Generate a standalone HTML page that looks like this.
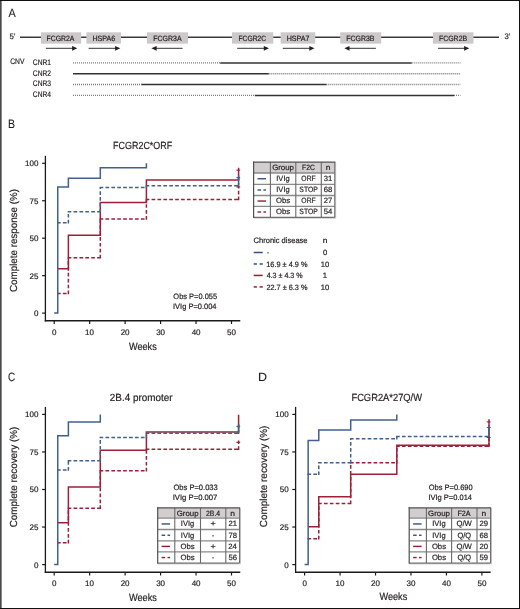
<!DOCTYPE html>
<html><head><meta charset="utf-8"><style>
html,body{margin:0;padding:0;background:#fff;}
body{width:520px;height:609px;overflow:hidden;}
svg{display:block;font-family:"Liberation Sans", sans-serif;will-change:transform;text-rendering:geometricPrecision;}
</style></head><body>
<svg width="520" height="609" viewBox="0 0 520 609">
<rect x="0" y="0" width="520" height="609" fill="#fff"/>
<text x="8.38" y="16.7" font-size="12" textLength="7.24" lengthAdjust="spacingAndGlyphs" fill="#231f20" stroke="#231f20" stroke-width="0.12">A</text>
<text x="9.49" y="39.4" font-size="8" textLength="6.1" lengthAdjust="spacingAndGlyphs" fill="#231f20" stroke="#231f20" stroke-width="0.2">5’</text>
<line x1="20" y1="37.2" x2="499" y2="37.2" stroke="#3a3a3a" stroke-width="1.4"/>
<rect x="41" y="32.3" width="40.2" height="11.35" fill="#cdc9ca" stroke="none" stroke-width="0"/>
<text x="46.54" y="40.5" font-size="7.6" textLength="27.88" lengthAdjust="spacingAndGlyphs" fill="#231f20" stroke="#231f20" stroke-width="0.2">FCGR2A</text>
<line x1="45.9" y1="48.3" x2="73.5" y2="48.3" stroke="#333" stroke-width="1"/>
<path d="M77.3,48.3 l-5.2,-2.4 v4.8 z" fill="#231f20"/>
<rect x="86.4" y="32.3" width="34.6" height="11.35" fill="#cdc9ca" stroke="none" stroke-width="0"/>
<text x="92.43" y="40.5" font-size="7.6" textLength="22.77" lengthAdjust="spacingAndGlyphs" fill="#231f20" stroke="#231f20" stroke-width="0.2">HSPA6</text>
<line x1="88.6" y1="48.3" x2="116.5" y2="48.3" stroke="#333" stroke-width="1"/>
<path d="M120.3,48.3 l-5.2,-2.4 v4.8 z" fill="#231f20"/>
<rect x="147" y="32.3" width="41" height="11.35" fill="#cdc9ca" stroke="none" stroke-width="0"/>
<text x="153.33" y="40.5" font-size="7.6" textLength="28.29" lengthAdjust="spacingAndGlyphs" fill="#231f20" stroke="#231f20" stroke-width="0.2">FCGR3A</text>
<line x1="155.2" y1="48.3" x2="182.6" y2="48.3" stroke="#333" stroke-width="1"/>
<path d="M151.4,48.3 l5.2,-2.4 v4.8 z" fill="#231f20"/>
<rect x="232" y="32.3" width="41.3" height="11.35" fill="#cdc9ca" stroke="none" stroke-width="0"/>
<text x="238.45" y="40.5" font-size="7.6" textLength="27.71" lengthAdjust="spacingAndGlyphs" fill="#231f20" stroke="#231f20" stroke-width="0.2">FCGR2C</text>
<line x1="237.2" y1="48.3" x2="265.2" y2="48.3" stroke="#333" stroke-width="1"/>
<path d="M269,48.3 l-5.2,-2.4 v4.8 z" fill="#231f20"/>
<rect x="280.6" y="32.3" width="34.6" height="11.35" fill="#cdc9ca" stroke="none" stroke-width="0"/>
<text x="286.63" y="40.5" font-size="7.6" textLength="22.82" lengthAdjust="spacingAndGlyphs" fill="#231f20" stroke="#231f20" stroke-width="0.2">HSPA7</text>
<line x1="282.8" y1="48.3" x2="310.7" y2="48.3" stroke="#333" stroke-width="1"/>
<path d="M314.5,48.3 l-5.2,-2.4 v4.8 z" fill="#231f20"/>
<rect x="340.2" y="32.3" width="41" height="11.35" fill="#cdc9ca" stroke="none" stroke-width="0"/>
<text x="346.23" y="40.5" font-size="7.6" textLength="28.24" lengthAdjust="spacingAndGlyphs" fill="#231f20" stroke="#231f20" stroke-width="0.2">FCGR3B</text>
<line x1="348.1" y1="48.3" x2="375.9" y2="48.3" stroke="#333" stroke-width="1"/>
<path d="M344.3,48.3 l5.2,-2.4 v4.8 z" fill="#231f20"/>
<rect x="433" y="32.3" width="40.5" height="11.35" fill="#cdc9ca" stroke="none" stroke-width="0"/>
<text x="438.93" y="40.5" font-size="7.6" textLength="28.24" lengthAdjust="spacingAndGlyphs" fill="#231f20" stroke="#231f20" stroke-width="0.2">FCGR2B</text>
<line x1="438" y1="48.3" x2="465.5" y2="48.3" stroke="#333" stroke-width="1"/>
<path d="M469.3,48.3 l-5.2,-2.4 v4.8 z" fill="#231f20"/>
<text x="504.61" y="39.4" font-size="8" textLength="5.97" lengthAdjust="spacingAndGlyphs" fill="#231f20" stroke="#231f20" stroke-width="0.2">3’</text>
<text x="10.26" y="64.2" font-size="8" textLength="14.17" lengthAdjust="spacingAndGlyphs" fill="#231f20" stroke="#231f20" stroke-width="0.2">CNV</text>
<text x="32.86" y="64.8" font-size="8" textLength="18.16" lengthAdjust="spacingAndGlyphs" fill="#231f20" stroke="#231f20" stroke-width="0.2">CNR1</text>
<text x="32.86" y="75.7" font-size="8" textLength="18.17" lengthAdjust="spacingAndGlyphs" fill="#231f20" stroke="#231f20" stroke-width="0.2">CNR2</text>
<text x="32.86" y="86.4" font-size="8" textLength="18.13" lengthAdjust="spacingAndGlyphs" fill="#231f20" stroke="#231f20" stroke-width="0.2">CNR3</text>
<text x="32.86" y="97" font-size="8" textLength="18.03" lengthAdjust="spacingAndGlyphs" fill="#231f20" stroke="#231f20" stroke-width="0.2">CNR4</text>
<line x1="73" y1="62.9" x2="220.2" y2="62.9" stroke="#7a7a7a" stroke-width="1.4" stroke-dasharray="1 1"/>
<line x1="411.7" y1="62.9" x2="460.5" y2="62.9" stroke="#7a7a7a" stroke-width="1.4" stroke-dasharray="1 1"/>
<line x1="220.2" y1="62.9" x2="411.7" y2="62.9" stroke="#333" stroke-width="1.5"/>
<line x1="268.7" y1="73.8" x2="460.5" y2="73.8" stroke="#7a7a7a" stroke-width="1.4" stroke-dasharray="1 1"/>
<line x1="73" y1="73.8" x2="268.7" y2="73.8" stroke="#333" stroke-width="1.5"/>
<line x1="73" y1="84.5" x2="141.3" y2="84.5" stroke="#7a7a7a" stroke-width="1.4" stroke-dasharray="1 1"/>
<line x1="326.3" y1="84.5" x2="460.5" y2="84.5" stroke="#7a7a7a" stroke-width="1.4" stroke-dasharray="1 1"/>
<line x1="141.3" y1="84.5" x2="326.3" y2="84.5" stroke="#333" stroke-width="1.5"/>
<line x1="73" y1="95.4" x2="254.8" y2="95.4" stroke="#7a7a7a" stroke-width="1.4" stroke-dasharray="1 1"/>
<line x1="454" y1="95.4" x2="460.5" y2="95.4" stroke="#7a7a7a" stroke-width="1.4" stroke-dasharray="1 1"/>
<line x1="254.8" y1="95.4" x2="454" y2="95.4" stroke="#333" stroke-width="1.5"/>
<text x="8.04" y="127.8" font-size="12.4" textLength="7.02" lengthAdjust="spacingAndGlyphs" fill="#231f20" stroke="#231f20" stroke-width="0.12">B</text>
<text x="113.07" y="148.6" font-size="10.4" textLength="59.19" lengthAdjust="spacingAndGlyphs" fill="#231f20" stroke="#231f20" stroke-width="0.2">FCGR2C*ORF</text>
<line x1="45.4" y1="155.8" x2="45.4" y2="321.4" stroke="#1a1a1a" stroke-width="1.3"/>
<line x1="44.75" y1="320.7" x2="240.26" y2="320.7" stroke="#1a1a1a" stroke-width="1.4"/>
<line x1="42.1" y1="313.1" x2="45.4" y2="313.1" stroke="#1a1a1a" stroke-width="1.2"/>
<text x="33.96" y="316" font-size="8" fill="#231f20" stroke="#231f20" stroke-width="0.2">0</text>
<line x1="42.1" y1="275.65" x2="45.4" y2="275.65" stroke="#1a1a1a" stroke-width="1.2"/>
<text x="29.54" y="278.55" font-size="8" fill="#231f20" stroke="#231f20" stroke-width="0.2">25</text>
<line x1="42.1" y1="238.2" x2="45.4" y2="238.2" stroke="#1a1a1a" stroke-width="1.2"/>
<text x="29.51" y="241.1" font-size="8" fill="#231f20" stroke="#231f20" stroke-width="0.2">50</text>
<line x1="42.1" y1="200.75" x2="45.4" y2="200.75" stroke="#1a1a1a" stroke-width="1.2"/>
<text x="29.54" y="203.65" font-size="8" fill="#231f20" stroke="#231f20" stroke-width="0.2">75</text>
<line x1="42.1" y1="163.3" x2="45.4" y2="163.3" stroke="#1a1a1a" stroke-width="1.2"/>
<text x="25.06" y="166.2" font-size="8" fill="#231f20" stroke="#231f20" stroke-width="0.2">100</text>
<line x1="54.2" y1="320.7" x2="54.2" y2="324" stroke="#1a1a1a" stroke-width="1.2"/>
<text x="51.98" y="334.75" font-size="8" fill="#231f20" stroke="#231f20" stroke-width="0.2">0</text>
<line x1="89.66" y1="320.7" x2="89.66" y2="324" stroke="#1a1a1a" stroke-width="1.2"/>
<text x="85.06" y="334.75" font-size="8" fill="#231f20" stroke="#231f20" stroke-width="0.2">10</text>
<line x1="125.12" y1="320.7" x2="125.12" y2="324" stroke="#1a1a1a" stroke-width="1.2"/>
<text x="120.63" y="334.75" font-size="8" fill="#231f20" stroke="#231f20" stroke-width="0.2">20</text>
<line x1="160.58" y1="320.7" x2="160.58" y2="324" stroke="#1a1a1a" stroke-width="1.2"/>
<text x="156.13" y="334.75" font-size="8" fill="#231f20" stroke="#231f20" stroke-width="0.2">30</text>
<line x1="196.04" y1="320.7" x2="196.04" y2="324" stroke="#1a1a1a" stroke-width="1.2"/>
<text x="191.66" y="334.75" font-size="8" fill="#231f20" stroke="#231f20" stroke-width="0.2">40</text>
<line x1="231.5" y1="320.7" x2="231.5" y2="324" stroke="#1a1a1a" stroke-width="1.2"/>
<text x="227.05" y="334.75" font-size="8" fill="#231f20" stroke="#231f20" stroke-width="0.2">50</text>
<text x="128.96" y="349.8" font-size="10.4" textLength="27.77" lengthAdjust="spacingAndGlyphs" fill="#231f20" stroke="#231f20" stroke-width="0.2">Weeks</text>
<text transform="translate(17,292) rotate(-90)" font-size="10.2" textLength="102.9" lengthAdjust="spacingAndGlyphs" fill="#231f20" stroke="#231f20" stroke-width="0.2">Complete response (%)</text>
<polyline points="57.75,268.76 68.38,268.76 68.38,235.35 100.3,235.35 100.3,202.4 146.4,202.4 146.4,179.93 238.59,179.93 238.59,167.79" fill="none" stroke="#a01f37" stroke-width="1.5" stroke-linejoin="miter"/>
<path d="M57,293.48H68.38M68.38,294.23V257.67M67.63,257.67H100.3M100.3,258.42V218.88M99.55,218.88H146.4M146.4,219.63V199.55M145.65,199.55H238.59M238.59,200.3V186.07" fill="none" stroke="#a01f37" stroke-width="1.5" stroke-dasharray="3.7 2.2"/>
<path d="M57,222.77H68.38M68.38,223.52V211.84M67.63,211.84H100.3M100.3,212.59V187.42M99.55,187.42H146.4M146.4,188.17V185.77M145.65,185.77H238.59M238.59,186.52V175.28" fill="none" stroke="#41608e" stroke-width="1.5" stroke-dasharray="3.7 2.2"/>
<polyline points="54.2,313.1 57.75,313.1 57.75,186.97 68.38,186.97 68.38,178.13 100.3,178.13 100.3,167.79 146.4,167.79 146.4,163.3" fill="none" stroke="#41608e" stroke-width="1.5" stroke-linejoin="miter"/>
<line x1="238.59" y1="185.02" x2="238.59" y2="175.28" stroke="#41608e" stroke-width="1.5"/>
<line x1="236.39" y1="170.19" x2="240.19" y2="170.19" stroke="#a01f37" stroke-width="1.1"/>
<line x1="236.39" y1="177.53" x2="240.19" y2="177.53" stroke="#41608e" stroke-width="1.1"/>
<line x1="236.39" y1="186.97" x2="240.19" y2="186.97" stroke="#a01f37" stroke-width="1.1"/>
<text x="173.35" y="299.3" font-size="7.8" textLength="43.77" lengthAdjust="spacingAndGlyphs" fill="#231f20" stroke="#231f20" stroke-width="0.2">Obs P=0.055</text>
<text x="173.01" y="309.4" font-size="7.8" textLength="43.51" lengthAdjust="spacingAndGlyphs" fill="#231f20" stroke="#231f20" stroke-width="0.2">IVIg P=0.004</text>
<rect x="253.6" y="162.2" width="81.2" height="10.8" fill="#d2cecf" stroke="none" stroke-width="0"/>
<line x1="253.6" y1="173" x2="334.8" y2="173" stroke="#8a8a8a" stroke-width="1.3"/>
<line x1="253.6" y1="184.3" x2="334.8" y2="184.3" stroke="#8a8a8a" stroke-width="1.3"/>
<line x1="253.6" y1="195.5" x2="334.8" y2="195.5" stroke="#8a8a8a" stroke-width="1.3"/>
<line x1="253.6" y1="206.4" x2="334.8" y2="206.4" stroke="#8a8a8a" stroke-width="1.3"/>
<line x1="270.4" y1="162.2" x2="270.4" y2="217.4" stroke="#6a6a6a" stroke-width="1.1"/>
<line x1="295.8" y1="162.2" x2="295.8" y2="217.4" stroke="#6a6a6a" stroke-width="1.1"/>
<line x1="321.3" y1="162.2" x2="321.3" y2="217.4" stroke="#6a6a6a" stroke-width="1.1"/>
<line x1="335.7" y1="162.7" x2="335.7" y2="218.3" stroke="#c8c8c8" stroke-width="0.8"/>
<line x1="254.1" y1="218.3" x2="335.7" y2="218.3" stroke="#c8c8c8" stroke-width="0.8"/>
<line x1="334.8" y1="162.2" x2="334.8" y2="217.4" stroke="#6e6e6e" stroke-width="1.2"/>
<line x1="253.6" y1="217.4" x2="334.8" y2="217.4" stroke="#6e6e6e" stroke-width="1.2"/>
<line x1="253" y1="162.2" x2="335.4" y2="162.2" stroke="#505050" stroke-width="1.2"/>
<line x1="253.6" y1="161.6" x2="253.6" y2="218" stroke="#505050" stroke-width="1.2"/>
<text x="272.15" y="170.4" font-size="7.7" textLength="21.83" lengthAdjust="spacingAndGlyphs" fill="#231f20" stroke="#231f20" stroke-width="0.2">Group</text>
<text x="302" y="170.4" font-size="7.7" textLength="12.8" lengthAdjust="spacingAndGlyphs" fill="#231f20" stroke="#231f20" stroke-width="0.2">F2C</text>
<text x="325.69" y="170.4" font-size="7.7" textLength="4.71" lengthAdjust="spacingAndGlyphs" fill="#231f20" stroke="#231f20" stroke-width="0.2">n</text>
<line x1="257.5" y1="178.75" x2="266" y2="178.75" stroke="#31507f" stroke-width="1.4"/>
<text x="276.28" y="181.05" font-size="7.7" textLength="13.42" lengthAdjust="spacingAndGlyphs" fill="#231f20" stroke="#231f20" stroke-width="0.2">IVIg</text>
<text x="301.37" y="181.05" font-size="7.7" textLength="14.3" lengthAdjust="spacingAndGlyphs" fill="#231f20" stroke="#231f20" stroke-width="0.2">ORF</text>
<text x="323.81" y="181.05" font-size="7.7" fill="#231f20" stroke="#231f20" stroke-width="0.2">31</text>
<line x1="257.5" y1="190" x2="261.1" y2="190" stroke="#31507f" stroke-width="1.4"/>
<line x1="263.4" y1="190" x2="266" y2="190" stroke="#31507f" stroke-width="1.4"/>
<text x="276.28" y="192.25" font-size="7.7" textLength="13.42" lengthAdjust="spacingAndGlyphs" fill="#231f20" stroke="#231f20" stroke-width="0.2">IVIg</text>
<text x="299.35" y="192.25" font-size="7.7" textLength="18.45" lengthAdjust="spacingAndGlyphs" fill="#231f20" stroke="#231f20" stroke-width="0.2">STOP</text>
<text x="323.74" y="192.25" font-size="7.7" fill="#231f20" stroke="#231f20" stroke-width="0.2">68</text>
<line x1="257.5" y1="201.05" x2="266" y2="201.05" stroke="#981c31" stroke-width="1.4"/>
<text x="276" y="203.15" font-size="7.7" fill="#231f20" stroke="#231f20" stroke-width="0.2">Obs</text>
<text x="301.37" y="203.15" font-size="7.7" textLength="14.3" lengthAdjust="spacingAndGlyphs" fill="#231f20" stroke="#231f20" stroke-width="0.2">ORF</text>
<text x="323.77" y="203.15" font-size="7.7" fill="#231f20" stroke="#231f20" stroke-width="0.2">27</text>
<line x1="257.5" y1="212" x2="261.1" y2="212" stroke="#981c31" stroke-width="1.4"/>
<line x1="263.4" y1="212" x2="266" y2="212" stroke="#981c31" stroke-width="1.4"/>
<text x="276" y="214.15" font-size="7.7" fill="#231f20" stroke="#231f20" stroke-width="0.2">Obs</text>
<text x="299.35" y="214.15" font-size="7.7" textLength="18.45" lengthAdjust="spacingAndGlyphs" fill="#231f20" stroke="#231f20" stroke-width="0.2">STOP</text>
<text x="323.73" y="214.15" font-size="7.7" fill="#231f20" stroke="#231f20" stroke-width="0.2">54</text>
<text x="253.62" y="242.5" font-size="7.9" textLength="53.92" lengthAdjust="spacingAndGlyphs" fill="#231f20" stroke="#231f20" stroke-width="0.2">Chronic disease</text>
<text x="322.74" y="242.5" font-size="7.7" textLength="4.71" lengthAdjust="spacingAndGlyphs" fill="#231f20" stroke="#231f20" stroke-width="0.2">n</text>
<line x1="253.7" y1="252.5" x2="262.7" y2="252.5" stroke="#31507f" stroke-width="1.5"/>
<text x="266.72" y="255.3" font-size="7.7" fill="#231f20" stroke="#231f20" stroke-width="0.2">-</text>
<text x="322.96" y="255.3" font-size="7.7" fill="#231f20" stroke="#231f20" stroke-width="0.2">0</text>
<line x1="253.7" y1="263.97" x2="256.9" y2="263.97" stroke="#31507f" stroke-width="1.5"/>
<line x1="259.6" y1="263.97" x2="262.8" y2="263.97" stroke="#31507f" stroke-width="1.5"/>
<text x="266.24" y="266.77" font-size="7.7" textLength="41.22" lengthAdjust="spacingAndGlyphs" fill="#231f20" stroke="#231f20" stroke-width="0.2">16.9 ± 4.9 %</text>
<text x="320.67" y="266.77" font-size="7.7" fill="#231f20" stroke="#231f20" stroke-width="0.2">10</text>
<line x1="253.7" y1="275.44" x2="262.7" y2="275.44" stroke="#981c31" stroke-width="1.5"/>
<text x="266.64" y="278.24" font-size="7.7" textLength="36.02" lengthAdjust="spacingAndGlyphs" fill="#231f20" stroke="#231f20" stroke-width="0.2">4.3 ± 4.3 %</text>
<text x="322.85" y="278.24" font-size="7.7" fill="#231f20" stroke="#231f20" stroke-width="0.2">1</text>
<line x1="253.7" y1="286.91" x2="256.9" y2="286.91" stroke="#981c31" stroke-width="1.5"/>
<line x1="259.6" y1="286.91" x2="262.8" y2="286.91" stroke="#981c31" stroke-width="1.5"/>
<text x="266.43" y="289.71" font-size="7.7" textLength="41.03" lengthAdjust="spacingAndGlyphs" fill="#231f20" stroke="#231f20" stroke-width="0.2">22.7 ± 6.3 %</text>
<text x="320.67" y="289.71" font-size="7.7" fill="#231f20" stroke="#231f20" stroke-width="0.2">10</text>
<text x="7.89" y="380.7" font-size="12.2" textLength="7.18" lengthAdjust="spacingAndGlyphs" fill="#231f20" stroke="#231f20" stroke-width="0.12">C</text>
<text x="109.8" y="401.4" font-size="10.4" textLength="62.66" lengthAdjust="spacingAndGlyphs" fill="#231f20" stroke="#231f20" stroke-width="0.2">2B.4 promoter</text>
<line x1="45.4" y1="406.9" x2="45.4" y2="572.9" stroke="#1a1a1a" stroke-width="1.3"/>
<line x1="44.75" y1="572.2" x2="240.26" y2="572.2" stroke="#1a1a1a" stroke-width="1.4"/>
<line x1="42.1" y1="564.6" x2="45.4" y2="564.6" stroke="#1a1a1a" stroke-width="1.2"/>
<text x="33.96" y="567.5" font-size="8" fill="#231f20" stroke="#231f20" stroke-width="0.2">0</text>
<line x1="42.1" y1="527.05" x2="45.4" y2="527.05" stroke="#1a1a1a" stroke-width="1.2"/>
<text x="29.54" y="529.95" font-size="8" fill="#231f20" stroke="#231f20" stroke-width="0.2">25</text>
<line x1="42.1" y1="489.5" x2="45.4" y2="489.5" stroke="#1a1a1a" stroke-width="1.2"/>
<text x="29.51" y="492.4" font-size="8" fill="#231f20" stroke="#231f20" stroke-width="0.2">50</text>
<line x1="42.1" y1="451.95" x2="45.4" y2="451.95" stroke="#1a1a1a" stroke-width="1.2"/>
<text x="29.54" y="454.85" font-size="8" fill="#231f20" stroke="#231f20" stroke-width="0.2">75</text>
<line x1="42.1" y1="414.4" x2="45.4" y2="414.4" stroke="#1a1a1a" stroke-width="1.2"/>
<text x="25.06" y="417.3" font-size="8" fill="#231f20" stroke="#231f20" stroke-width="0.2">100</text>
<line x1="54.2" y1="572.2" x2="54.2" y2="575.5" stroke="#1a1a1a" stroke-width="1.2"/>
<text x="51.98" y="586.25" font-size="8" fill="#231f20" stroke="#231f20" stroke-width="0.2">0</text>
<line x1="89.66" y1="572.2" x2="89.66" y2="575.5" stroke="#1a1a1a" stroke-width="1.2"/>
<text x="85.06" y="586.25" font-size="8" fill="#231f20" stroke="#231f20" stroke-width="0.2">10</text>
<line x1="125.12" y1="572.2" x2="125.12" y2="575.5" stroke="#1a1a1a" stroke-width="1.2"/>
<text x="120.63" y="586.25" font-size="8" fill="#231f20" stroke="#231f20" stroke-width="0.2">20</text>
<line x1="160.58" y1="572.2" x2="160.58" y2="575.5" stroke="#1a1a1a" stroke-width="1.2"/>
<text x="156.13" y="586.25" font-size="8" fill="#231f20" stroke="#231f20" stroke-width="0.2">30</text>
<line x1="196.04" y1="572.2" x2="196.04" y2="575.5" stroke="#1a1a1a" stroke-width="1.2"/>
<text x="191.66" y="586.25" font-size="8" fill="#231f20" stroke="#231f20" stroke-width="0.2">40</text>
<line x1="231.5" y1="572.2" x2="231.5" y2="575.5" stroke="#1a1a1a" stroke-width="1.2"/>
<text x="227.05" y="586.25" font-size="8" fill="#231f20" stroke="#231f20" stroke-width="0.2">50</text>
<text x="128.96" y="600.9" font-size="10.4" textLength="27.97" lengthAdjust="spacingAndGlyphs" fill="#231f20" stroke="#231f20" stroke-width="0.2">Weeks</text>
<text transform="translate(17,527.3) rotate(-90)" font-size="10.2" textLength="100.61" lengthAdjust="spacingAndGlyphs" fill="#231f20" stroke="#231f20" stroke-width="0.2">Complete recovery (%)</text>
<polyline points="57.75,522.69 68.38,522.69 68.38,486.95 100.3,486.95 100.3,450.3 146.4,450.3 146.4,432.12 238.59,432.12 238.59,414.7" fill="none" stroke="#a01f37" stroke-width="1.5" stroke-linejoin="miter"/>
<path d="M57,542.82H68.38M68.38,543.57V508.28M67.63,508.28H100.3M100.3,509.03V470.73M99.55,470.73H146.4M146.4,471.48V449.25M145.65,449.25H238.59M238.59,450V439.48" fill="none" stroke="#a01f37" stroke-width="1.5" stroke-dasharray="3.7 2.2"/>
<path d="M57,469.97H68.38M68.38,470.72V460.66M67.63,460.66H100.3M100.3,461.41V437.38M99.55,437.38H146.4M146.4,438.13V433.33M145.65,433.33H238.59M238.59,434.08V424.31" fill="none" stroke="#41608e" stroke-width="1.5" stroke-dasharray="3.7 2.2"/>
<polyline points="54.2,564.6 57.75,564.6 57.75,435.73 68.38,435.73 68.38,421.91 100.3,421.91 100.3,414.4" fill="none" stroke="#41608e" stroke-width="1.5" stroke-linejoin="miter"/>
<line x1="238.59" y1="432.42" x2="238.59" y2="424.31" stroke="#41608e" stroke-width="1.5"/>
<line x1="236.39" y1="426.42" x2="240.19" y2="426.42" stroke="#41608e" stroke-width="1.1"/>
<line x1="236.39" y1="442.34" x2="240.19" y2="442.34" stroke="#a01f37" stroke-width="1.1"/>
<text x="173.44" y="489.8" font-size="7.8" textLength="44.29" lengthAdjust="spacingAndGlyphs" fill="#231f20" stroke="#231f20" stroke-width="0.2">Obs P=0.033</text>
<text x="172.69" y="499.6" font-size="7.8" textLength="44.7" lengthAdjust="spacingAndGlyphs" fill="#231f20" stroke="#231f20" stroke-width="0.2">IVIg P=0.007</text>
<rect x="157.7" y="507.9" width="81.9" height="10.3" fill="#d2cecf" stroke="none" stroke-width="0"/>
<line x1="157.7" y1="518.2" x2="239.6" y2="518.2" stroke="#8a8a8a" stroke-width="1.3"/>
<line x1="157.7" y1="529.5" x2="239.6" y2="529.5" stroke="#8a8a8a" stroke-width="1.3"/>
<line x1="157.7" y1="540.8" x2="239.6" y2="540.8" stroke="#8a8a8a" stroke-width="1.3"/>
<line x1="157.7" y1="551.8" x2="239.6" y2="551.8" stroke="#8a8a8a" stroke-width="1.3"/>
<line x1="174.8" y1="507.9" x2="174.8" y2="563.1" stroke="#6a6a6a" stroke-width="1.1"/>
<line x1="200.5" y1="507.9" x2="200.5" y2="563.1" stroke="#6a6a6a" stroke-width="1.1"/>
<line x1="225.8" y1="507.9" x2="225.8" y2="563.1" stroke="#6a6a6a" stroke-width="1.1"/>
<line x1="240.5" y1="508.4" x2="240.5" y2="564" stroke="#c8c8c8" stroke-width="0.8"/>
<line x1="158.2" y1="564" x2="240.5" y2="564" stroke="#c8c8c8" stroke-width="0.8"/>
<line x1="239.6" y1="507.9" x2="239.6" y2="563.1" stroke="#6e6e6e" stroke-width="1.2"/>
<line x1="157.7" y1="563.1" x2="239.6" y2="563.1" stroke="#6e6e6e" stroke-width="1.2"/>
<line x1="157.1" y1="507.9" x2="240.2" y2="507.9" stroke="#505050" stroke-width="1.2"/>
<line x1="157.7" y1="507.3" x2="157.7" y2="563.7" stroke="#505050" stroke-width="1.2"/>
<text x="176.7" y="515.6" font-size="7.7" textLength="21.83" lengthAdjust="spacingAndGlyphs" fill="#231f20" stroke="#231f20" stroke-width="0.2">Group</text>
<text x="206.03" y="515.6" font-size="7.7" textLength="14.1" lengthAdjust="spacingAndGlyphs" fill="#231f20" stroke="#231f20" stroke-width="0.2">2B.4</text>
<text x="230.34" y="515.6" font-size="7.7" textLength="4.71" lengthAdjust="spacingAndGlyphs" fill="#231f20" stroke="#231f20" stroke-width="0.2">n</text>
<line x1="161.6" y1="523.95" x2="170.1" y2="523.95" stroke="#31507f" stroke-width="1.4"/>
<text x="180.83" y="526.25" font-size="7.7" textLength="13.42" lengthAdjust="spacingAndGlyphs" fill="#231f20" stroke="#231f20" stroke-width="0.2">IVIg</text>
<text x="210.57" y="526.25" font-size="7.7" textLength="5.17" lengthAdjust="spacingAndGlyphs" fill="#231f20" stroke="#231f20" stroke-width="0.2">+</text>
<text x="228.41" y="526.25" font-size="7.7" fill="#231f20" stroke="#231f20" stroke-width="0.2">21</text>
<line x1="161.6" y1="535.25" x2="165.2" y2="535.25" stroke="#31507f" stroke-width="1.4"/>
<line x1="167.5" y1="535.25" x2="170.1" y2="535.25" stroke="#31507f" stroke-width="1.4"/>
<text x="180.83" y="537.55" font-size="7.7" textLength="13.42" lengthAdjust="spacingAndGlyphs" fill="#231f20" stroke="#231f20" stroke-width="0.2">IVIg</text>
<text x="211.87" y="537.55" font-size="7.7" fill="#231f20" stroke="#231f20" stroke-width="0.2">-</text>
<text x="228.39" y="537.55" font-size="7.7" fill="#231f20" stroke="#231f20" stroke-width="0.2">78</text>
<line x1="161.6" y1="546.4" x2="170.1" y2="546.4" stroke="#981c31" stroke-width="1.4"/>
<text x="180.55" y="548.55" font-size="7.7" fill="#231f20" stroke="#231f20" stroke-width="0.2">Obs</text>
<text x="210.57" y="548.55" font-size="7.7" textLength="5.17" lengthAdjust="spacingAndGlyphs" fill="#231f20" stroke="#231f20" stroke-width="0.2">+</text>
<text x="228.34" y="548.55" font-size="7.7" fill="#231f20" stroke="#231f20" stroke-width="0.2">24</text>
<line x1="161.6" y1="557.55" x2="165.2" y2="557.55" stroke="#981c31" stroke-width="1.4"/>
<line x1="167.5" y1="557.55" x2="170.1" y2="557.55" stroke="#981c31" stroke-width="1.4"/>
<text x="180.55" y="559.85" font-size="7.7" fill="#231f20" stroke="#231f20" stroke-width="0.2">Obs</text>
<text x="211.87" y="559.85" font-size="7.7" fill="#231f20" stroke="#231f20" stroke-width="0.2">-</text>
<text x="228.43" y="559.85" font-size="7.7" fill="#231f20" stroke="#231f20" stroke-width="0.2">56</text>
<text x="257.98" y="380.6" font-size="12" textLength="9.02" lengthAdjust="spacingAndGlyphs" fill="#231f20" stroke="#231f20" stroke-width="0.12">D</text>
<text x="351.43" y="401.1" font-size="10.4" textLength="70.6" lengthAdjust="spacingAndGlyphs" fill="#231f20" stroke="#231f20" stroke-width="0.2">FCGR2A*27Q/W</text>
<line x1="295.6" y1="406.9" x2="295.6" y2="572.9" stroke="#1a1a1a" stroke-width="1.3"/>
<line x1="294.95" y1="572.2" x2="490.66" y2="572.2" stroke="#1a1a1a" stroke-width="1.4"/>
<line x1="292.3" y1="564.6" x2="295.6" y2="564.6" stroke="#1a1a1a" stroke-width="1.2"/>
<text x="284.16" y="567.5" font-size="8" fill="#231f20" stroke="#231f20" stroke-width="0.2">0</text>
<line x1="292.3" y1="527.05" x2="295.6" y2="527.05" stroke="#1a1a1a" stroke-width="1.2"/>
<text x="279.74" y="529.95" font-size="8" fill="#231f20" stroke="#231f20" stroke-width="0.2">25</text>
<line x1="292.3" y1="489.5" x2="295.6" y2="489.5" stroke="#1a1a1a" stroke-width="1.2"/>
<text x="279.71" y="492.4" font-size="8" fill="#231f20" stroke="#231f20" stroke-width="0.2">50</text>
<line x1="292.3" y1="451.95" x2="295.6" y2="451.95" stroke="#1a1a1a" stroke-width="1.2"/>
<text x="279.74" y="454.85" font-size="8" fill="#231f20" stroke="#231f20" stroke-width="0.2">75</text>
<line x1="292.3" y1="414.4" x2="295.6" y2="414.4" stroke="#1a1a1a" stroke-width="1.2"/>
<text x="275.26" y="417.3" font-size="8" fill="#231f20" stroke="#231f20" stroke-width="0.2">100</text>
<line x1="304.6" y1="572.2" x2="304.6" y2="575.5" stroke="#1a1a1a" stroke-width="1.2"/>
<text x="302.38" y="585.55" font-size="8" fill="#231f20" stroke="#231f20" stroke-width="0.2">0</text>
<line x1="340.06" y1="572.2" x2="340.06" y2="575.5" stroke="#1a1a1a" stroke-width="1.2"/>
<text x="335.46" y="585.55" font-size="8" fill="#231f20" stroke="#231f20" stroke-width="0.2">10</text>
<line x1="375.52" y1="572.2" x2="375.52" y2="575.5" stroke="#1a1a1a" stroke-width="1.2"/>
<text x="371.03" y="585.55" font-size="8" fill="#231f20" stroke="#231f20" stroke-width="0.2">20</text>
<line x1="410.98" y1="572.2" x2="410.98" y2="575.5" stroke="#1a1a1a" stroke-width="1.2"/>
<text x="406.53" y="585.55" font-size="8" fill="#231f20" stroke="#231f20" stroke-width="0.2">30</text>
<line x1="446.44" y1="572.2" x2="446.44" y2="575.5" stroke="#1a1a1a" stroke-width="1.2"/>
<text x="442.06" y="585.55" font-size="8" fill="#231f20" stroke="#231f20" stroke-width="0.2">40</text>
<line x1="481.9" y1="572.2" x2="481.9" y2="575.5" stroke="#1a1a1a" stroke-width="1.2"/>
<text x="477.45" y="585.55" font-size="8" fill="#231f20" stroke="#231f20" stroke-width="0.2">50</text>
<text x="379.46" y="600" font-size="10.4" textLength="27.77" lengthAdjust="spacingAndGlyphs" fill="#231f20" stroke="#231f20" stroke-width="0.2">Weeks</text>
<text transform="translate(267.2,527.2) rotate(-90)" font-size="10.2" textLength="101.52" lengthAdjust="spacingAndGlyphs" fill="#231f20" stroke="#231f20" stroke-width="0.2">Complete recovery (%)</text>
<polyline points="308.15,526.75 318.78,526.75 318.78,496.86 350.7,496.86 350.7,474.33 396.8,474.33 396.8,445.19 488.99,445.19 488.99,419.36" fill="none" stroke="#a01f37" stroke-width="1.5" stroke-linejoin="miter"/>
<path d="M307.4,538.77H318.78M318.78,539.52V503.47M318.03,503.47H350.7M350.7,504.22V462.76M349.95,462.76H396.8M396.8,463.51V446.24M396.05,446.24H488.99M488.99,446.99V437.38" fill="none" stroke="#a01f37" stroke-width="1.5" stroke-dasharray="3.7 2.2"/>
<path d="M307.4,474.33H318.78M318.78,475.08V462.76M318.03,462.76H350.7M350.7,463.51V438.73M349.95,438.73H396.8M396.8,439.48V436.48M396.05,436.48H488.99M488.99,437.23V425.21" fill="none" stroke="#41608e" stroke-width="1.5" stroke-dasharray="3.7 2.2"/>
<polyline points="304.6,564.6 308.15,564.6 308.15,440.38 318.78,440.38 318.78,430.02 350.7,430.02 350.7,420.11 396.8,420.11 396.8,414.4" fill="none" stroke="#41608e" stroke-width="1.5" stroke-linejoin="miter"/>
<line x1="488.99" y1="434.68" x2="488.99" y2="425.21" stroke="#41608e" stroke-width="1.5"/>
<line x1="486.79" y1="421.91" x2="490.59" y2="421.91" stroke="#a01f37" stroke-width="1.1"/>
<line x1="486.79" y1="427.47" x2="490.59" y2="427.47" stroke="#41608e" stroke-width="1.1"/>
<line x1="486.79" y1="437.38" x2="490.59" y2="437.38" stroke="#a01f37" stroke-width="1.1"/>
<text x="428.75" y="490.4" font-size="7.8" textLength="43.95" lengthAdjust="spacingAndGlyphs" fill="#231f20" stroke="#231f20" stroke-width="0.2">Obs P=0.690</text>
<text x="428.41" y="500" font-size="7.8" textLength="43.61" lengthAdjust="spacingAndGlyphs" fill="#231f20" stroke="#231f20" stroke-width="0.2">IVIg P=0.014</text>
<rect x="409.2" y="507.9" width="81.4" height="10.3" fill="#d2cecf" stroke="none" stroke-width="0"/>
<line x1="409.2" y1="518.2" x2="490.6" y2="518.2" stroke="#8a8a8a" stroke-width="1.3"/>
<line x1="409.2" y1="529.5" x2="490.6" y2="529.5" stroke="#8a8a8a" stroke-width="1.3"/>
<line x1="409.2" y1="540.8" x2="490.6" y2="540.8" stroke="#8a8a8a" stroke-width="1.3"/>
<line x1="409.2" y1="551.8" x2="490.6" y2="551.8" stroke="#8a8a8a" stroke-width="1.3"/>
<line x1="426.4" y1="507.9" x2="426.4" y2="563.1" stroke="#6a6a6a" stroke-width="1.1"/>
<line x1="451.6" y1="507.9" x2="451.6" y2="563.1" stroke="#6a6a6a" stroke-width="1.1"/>
<line x1="477" y1="507.9" x2="477" y2="563.1" stroke="#6a6a6a" stroke-width="1.1"/>
<line x1="491.5" y1="508.4" x2="491.5" y2="564" stroke="#c8c8c8" stroke-width="0.8"/>
<line x1="409.7" y1="564" x2="491.5" y2="564" stroke="#c8c8c8" stroke-width="0.8"/>
<line x1="490.6" y1="507.9" x2="490.6" y2="563.1" stroke="#6e6e6e" stroke-width="1.2"/>
<line x1="409.2" y1="563.1" x2="490.6" y2="563.1" stroke="#6e6e6e" stroke-width="1.2"/>
<line x1="408.6" y1="507.9" x2="491.2" y2="507.9" stroke="#505050" stroke-width="1.2"/>
<line x1="409.2" y1="507.3" x2="409.2" y2="563.7" stroke="#505050" stroke-width="1.2"/>
<text x="428.05" y="515.6" font-size="7.7" textLength="21.83" lengthAdjust="spacingAndGlyphs" fill="#231f20" stroke="#231f20" stroke-width="0.2">Group</text>
<text x="457.45" y="515.6" font-size="7.7" textLength="13.13" lengthAdjust="spacingAndGlyphs" fill="#231f20" stroke="#231f20" stroke-width="0.2">F2A</text>
<text x="481.44" y="515.6" font-size="7.7" textLength="4.71" lengthAdjust="spacingAndGlyphs" fill="#231f20" stroke="#231f20" stroke-width="0.2">n</text>
<line x1="413.1" y1="523.95" x2="421.6" y2="523.95" stroke="#31507f" stroke-width="1.4"/>
<text x="432.18" y="526.25" font-size="7.7" textLength="13.42" lengthAdjust="spacingAndGlyphs" fill="#231f20" stroke="#231f20" stroke-width="0.2">IVIg</text>
<text x="456.43" y="526.25" font-size="7.7" fill="#231f20" stroke="#231f20" stroke-width="0.2">Q/W</text>
<text x="479.51" y="526.25" font-size="7.7" fill="#231f20" stroke="#231f20" stroke-width="0.2">29</text>
<line x1="413.1" y1="535.25" x2="416.7" y2="535.25" stroke="#31507f" stroke-width="1.4"/>
<line x1="419" y1="535.25" x2="421.6" y2="535.25" stroke="#31507f" stroke-width="1.4"/>
<text x="432.18" y="537.55" font-size="7.7" textLength="13.42" lengthAdjust="spacingAndGlyphs" fill="#231f20" stroke="#231f20" stroke-width="0.2">IVIg</text>
<text x="457.45" y="537.55" font-size="7.7" textLength="13.69" lengthAdjust="spacingAndGlyphs" fill="#231f20" stroke="#231f20" stroke-width="0.2">Q/Q</text>
<text x="479.49" y="537.55" font-size="7.7" fill="#231f20" stroke="#231f20" stroke-width="0.2">68</text>
<line x1="413.1" y1="546.4" x2="421.6" y2="546.4" stroke="#981c31" stroke-width="1.4"/>
<text x="431.9" y="548.55" font-size="7.7" fill="#231f20" stroke="#231f20" stroke-width="0.2">Obs</text>
<text x="456.43" y="548.55" font-size="7.7" fill="#231f20" stroke="#231f20" stroke-width="0.2">Q/W</text>
<text x="479.47" y="548.55" font-size="7.7" fill="#231f20" stroke="#231f20" stroke-width="0.2">20</text>
<line x1="413.1" y1="557.55" x2="416.7" y2="557.55" stroke="#981c31" stroke-width="1.4"/>
<line x1="419" y1="557.55" x2="421.6" y2="557.55" stroke="#981c31" stroke-width="1.4"/>
<text x="431.9" y="559.85" font-size="7.7" fill="#231f20" stroke="#231f20" stroke-width="0.2">Obs</text>
<text x="457.45" y="559.85" font-size="7.7" textLength="13.69" lengthAdjust="spacingAndGlyphs" fill="#231f20" stroke="#231f20" stroke-width="0.2">Q/Q</text>
<text x="479.55" y="559.85" font-size="7.7" fill="#231f20" stroke="#231f20" stroke-width="0.2">59</text>
<rect x="0" y="0" width="1" height="609" fill="#4a4a4a"/>
<rect x="1" y="0" width="1" height="609" fill="#8a8a8a"/>
<rect x="0" y="0" width="520" height="1" fill="#111"/>
<rect x="519" y="0" width="1" height="609" fill="#111"/>
<rect x="0" y="608" width="520" height="1" fill="#111"/>
</svg>
</body></html>
